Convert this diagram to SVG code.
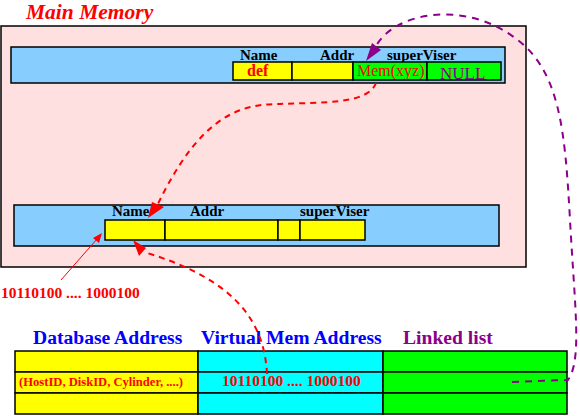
<svg xmlns="http://www.w3.org/2000/svg" width="580" height="416" viewBox="0 0 580 416">
<defs>
<style>
.t{font-family:"Liberation Serif","Times New Roman",serif;}
.lbl{font-family:"Liberation Serif",serif;font-weight:bold;font-size:15px;fill:#000;}
.hdr{font-family:"Liberation Serif",serif;font-weight:bold;font-size:19.6px;}
.box{stroke:#000;stroke-width:1.5;}
.red-dash{fill:none;stroke:#FF0000;stroke-width:2;stroke-dasharray:6 5;}
.pur-dash{fill:none;stroke:#8B008B;stroke-width:2;stroke-dasharray:7 6;}
</style>
</defs>
<rect width="580" height="416" fill="#FFFFFF"/>
<text class="t" x="26" y="19" font-size="21.5" font-weight="bold" font-style="italic" fill="#FF0000">Main Memory</text>
<g id="main-memory">
<rect class="box" x="1" y="26" width="525" height="241" fill="#FFE0E0"/>
</g>
<g id="top-record">
<rect class="box" x="11" y="47" width="494" height="36" fill="#87CEFF"/>
<text class="lbl" x="240" y="60">Name</text>
<text class="lbl" x="320" y="60">Addr</text>
<text class="lbl" x="387" y="60">superViser</text>
<rect class="box" x="233" y="62" width="59" height="18" fill="#FFFF00"/>
<rect class="box" x="292" y="62" width="61" height="18" fill="#FFFF00"/>
<rect class="box" x="353" y="62" width="74" height="18" fill="#00FF00"/>
<rect class="box" x="427" y="62" width="74" height="18" fill="#00FF00"/>
<text class="t" x="247" y="76" font-size="16" font-weight="bold" fill="#FF0000">def</text>
<text class="t" x="357" y="76" font-size="16" fill="#FF0000">Mem(xyz)</text>
<text class="t" x="440" y="79" font-size="17" fill="#8B008B">NULL</text>
</g>
<g id="bottom-record">
<rect class="box" x="14" y="205" width="485" height="41" fill="#87CEFF"/>
<text class="lbl" x="112" y="216" font-size="16">Name</text>
<text class="lbl" x="190" y="216" font-size="16">Addr</text>
<text class="lbl" x="300" y="216" font-size="16">superViser</text>
<rect class="box" x="105" y="220" width="60" height="20" fill="#FFFF00"/>
<rect class="box" x="165" y="220" width="113" height="20" fill="#FFFF00"/>
<rect class="box" x="278" y="220" width="22" height="20" fill="#FFFF00"/>
<rect class="box" x="300" y="220" width="65" height="20" fill="#FFFF00"/>
</g>
<g id="address-label">
<text class="t" x="1" y="298" font-size="15.5" font-weight="bold" fill="#FF0000">10110100 .... 1000100</text>
</g>
<g id="table">
<text class="hdr" x="33" y="344" fill="#0000FF">Database Address</text>
<text class="hdr" x="201" y="344" fill="#0000FF">Virtual Mem Address</text>
<text class="hdr" x="403" y="344" fill="#8B008B">Linked list</text>
<rect class="box" x="15" y="351" width="183" height="21" fill="#FFFF00"/>
<rect class="box" x="15" y="372" width="183" height="21" fill="#FFFF00"/>
<rect class="box" x="15" y="393" width="183" height="21" fill="#FFFF00"/>
<rect class="box" x="198" y="351" width="185" height="21" fill="#00FFFF"/>
<rect class="box" x="198" y="372" width="185" height="21" fill="#00FFFF"/>
<rect class="box" x="198" y="393" width="185" height="21" fill="#00FFFF"/>
<rect class="box" x="383" y="351" width="184" height="21" fill="#00FF00"/>
<rect class="box" x="383" y="372" width="184" height="21" fill="#00FF00"/>
<rect class="box" x="383" y="393" width="184" height="21" fill="#00FF00"/>
<text class="t" x="19" y="386" font-size="12.6" font-weight="bold" fill="#FF0000">(HostID, DiskID, Cylinder, ....)</text>
<text class="t" x="222" y="386" font-size="15.5" font-weight="bold" fill="#FF0000">10110100 .... 1000100</text>
</g>
<g id="connectors">
<path class="red-dash" d="M 376 83 C 368 105, 320 102, 280 104 C 240 104, 200 115, 156 208"/>
<polygon points="148,218 152,202 164,207" fill="#FF0000"/>
<path class="red-dash" d="M 267 374 C 264 310, 220 275, 144 252"/>
<polygon points="133,240 146,248 139,256" fill="#FF0000"/>
<path d="M 61 280 L 97 239" fill="none" stroke="#FF0000" stroke-width="1"/>
<polygon points="102,233 99,243 93,238" fill="#FF0000"/>
<path class="pur-dash" d="M 512 382 L 568 380 C 582 360, 575 310, 570 220 C 565 130, 560 70, 515 38 C 465 0, 395 12, 376 46"/>
<polygon points="366,61 372,43 381,50" fill="#8B008B"/>
</g>
</svg>
